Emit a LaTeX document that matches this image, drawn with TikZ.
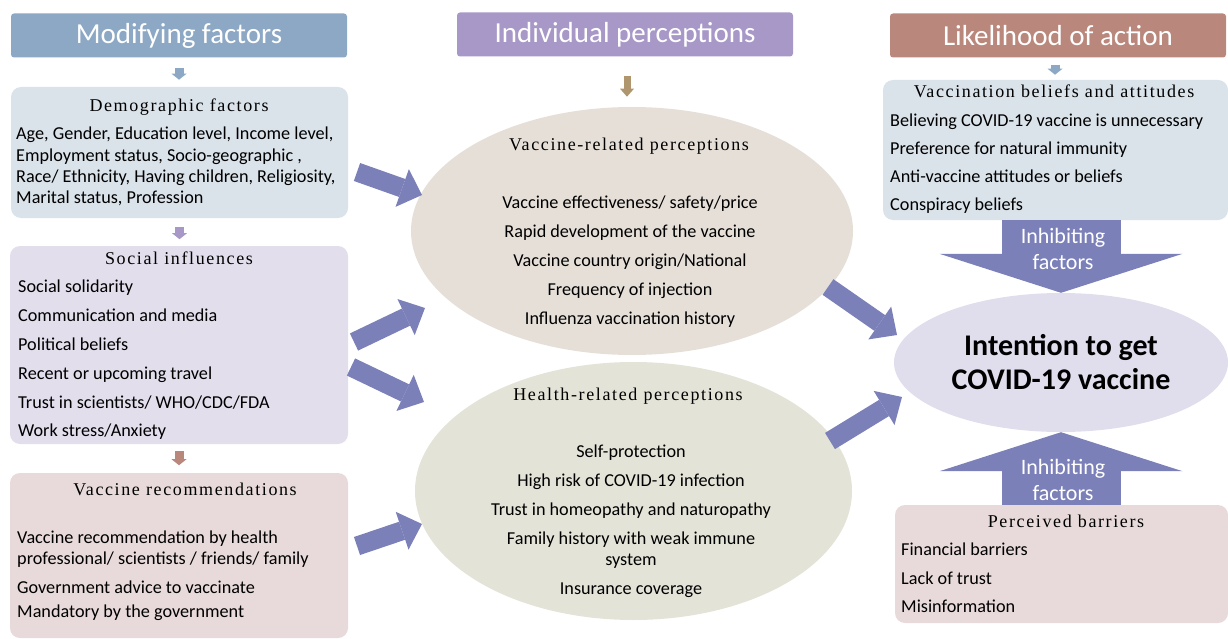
\documentclass[tikz,border=0pt]{standalone}
\usepackage{fontspec}
\setmainfont{Carlito}
\newfontfamily\subfont{Liberation Serif}[LetterSpace=9]
\usetikzlibrary{arrows.meta,positioning,shapes.geometric}

\definecolor{headblue}{HTML}{8CA8C4}
\definecolor{headpurple}{HTML}{A898C8}
\definecolor{headbrown}{HTML}{B9877C}
\definecolor{boxblue}{HTML}{DAE2EA}
\definecolor{boxlilac}{HTML}{E2DEEC}
\definecolor{boxpink}{HTML}{E8DADA}
\definecolor{ovalsand}{HTML}{E5DFD8}
\definecolor{ovalsage}{HTML}{E3E3D8}
\definecolor{ovallilac}{HTML}{E0DDEC}
\definecolor{arrowblue}{HTML}{7B80B8}
\definecolor{arrowtan}{HTML}{B0966E}

\begin{document}
\begin{tikzpicture}[x=1pt,y=-1pt]
\tikzset{HeadStyle/.style={rounded corners=3pt, minimum width=336pt, minimum height=44pt,
                           inner sep=0, text=white, font=\fontsize{29}{29}\selectfont},
         BoxStyle/.style={rounded corners=10pt, inner sep=0},
         OvalStyle/.style={ellipse, inner sep=0},
         SubStyle/.style={inner sep=0, anchor=base, font=\subfont\fontsize{18}{18}\selectfont},
         ListStyle/.style={inner sep=0, align=left, anchor=north west,
                           font=\fontsize{18.2}{28.8}\selectfont},
         SmallArrow/.style={line width=9pt, -{Triangle[width=15pt,length=6pt,line width=0pt]}},
         BigArrow/.style={arrowblue, line width=19pt, -{Triangle[width=40pt,length=21pt,line width=0pt]}},
         WideArrow/.style={arrowblue, line width=119pt, -{Triangle[width=243pt,length=39pt,line width=0pt]}}}
\useasboundingbox (0,0) rectangle (1228,639);

% column heads
\node[HeadStyle, fill=headblue] (M0) at (179,35.5) {Modifying factors};
\node[HeadStyle, fill=headpurple] (P0) at (625,34.5) {Individual perceptions};
\node[HeadStyle, fill=headbrown] (L0) at (1058,35.5) {Likelihood of action};

% modifying factors
\node[BoxStyle, fill=boxblue, minimum width=337pt, minimum height=131pt] (M1) at (179.5,152.5) {};
\node[BoxStyle, fill=boxlilac, minimum width=338pt, minimum height=198pt] (M2) at (179,345) {};
\node[BoxStyle, fill=boxpink, minimum width=338pt, minimum height=165pt] (M3) at (179,555.5) {};
\node[SubStyle] (M1h) at (179,112) {Demographic factors};
\node[SubStyle] (M2h) at (179,264) {Social influences};
\node[SubStyle] (M3h) at (185,495) {Vaccine recommendations};
\node[ListStyle, font=\fontsize{18.2}{21.3}\selectfont] (M1t) at (16,127)
  {Age, Gender, Education level, Income level,\\Employment status, Socio-geographic ,\\
   Race/ Ethnicity, Having children, Religiosity,\\Marital status, Profession};
\node[ListStyle] (M2t) at (18,280)
  {Social solidarity\\Communication and media\\Political beliefs\\
   Recent or upcoming travel\\Trust in scientists/ WHO/CDC/FDA\\Work stress/Anxiety};
\node[ListStyle, font=\fontsize{18.2}{21}\selectfont] (M3t) at (17,531)
  {Vaccine recommendation by health\\professional/ scientists / friends/ family\\[8pt]
   Government advice to vaccinate\\[3pt]Mandatory by the government};

% perceptions
\node[OvalStyle, fill=ovalsand, minimum width=442pt, minimum height=248pt] (P1) at (632,231) {};
\node[OvalStyle, fill=ovalsage, minimum width=437pt, minimum height=258pt] (P2) at (633.5,491) {};
\node[SubStyle] (P1h) at (629,151) {Vaccine-related perceptions};
\node[SubStyle] (P2h) at (628,400) {Health-related perceptions};
\node[ListStyle, align=center, anchor=north] (P1t) at (630,196)
  {Vaccine effectiveness/ safety/price\\Rapid development of the vaccine\\
   Vaccine country origin/National\\Frequency of injection\\Influenza vaccination history};
\node[ListStyle, align=center, anchor=north] (P2t) at (631,445)
  {Self-protection\\High risk of COVID-19 infection\\Trust in homeopathy and naturopathy\\
   Family history with weak immune\\[-7.8pt]system\\Insurance coverage};

% likelihood of action
\node[BoxStyle, fill=boxblue, minimum width=345pt, minimum height=140pt] (L1) at (1055.5,150) {};
\node[OvalStyle, fill=ovallilac, minimum width=334pt, minimum height=139pt,
      align=center, font=\fontsize{30}{34}\selectfont\bfseries] (L2) at (1061,362.5)
  {Intention to get\\COVID-19 vaccine};
\draw[WideArrow] (L1.south -| L2.north) -- (L2.north);
\draw[WideArrow] ([yshift=-2pt]L2.south |- 0,507) -- (L2.south);
\node[BoxStyle, fill=boxpink, minimum width=333pt, minimum height=118pt] (L3) at (1061.5,564) {};
\node[align=center, text=white, font=\fontsize{22}{26}\selectfont] (I1) at (1063,249) {Inhibiting\\factors};
\node[align=center, text=white, font=\fontsize{22}{26}\selectfont] (I2) at (1063,480) {Inhibiting\\factors};
\node[SubStyle] (L1h) at (1054,98) {Vaccination beliefs and attitudes};
\node[SubStyle] (L3h) at (1066,527) {Perceived barriers};
\node[ListStyle, font=\fontsize{18.2}{28}\selectfont] (L1t) at (890,114)
  {Believing COVID-19 vaccine is unnecessary\\Preference for natural immunity\\
   Anti-vaccine attitudes or beliefs\\Conspiracy beliefs};
\node[ListStyle, font=\fontsize{18.2}{28.5}\selectfont] (L3t) at (901,543)
  {Financial barriers\\Lack of trust\\Misinformation};

% small arrows
\draw[SmallArrow, headblue] ([yshift=-10pt]M0.south) -- ([yshift=-22pt]M0.south);
\draw[SmallArrow, headpurple] ([yshift=-9pt]M1.south) -- ([yshift=-21pt]M1.south);
\draw[SmallArrow, headbrown] ([yshift=-7pt]M2.south) -- ([yshift=-21pt]M2.south);
\draw[arrowtan, line width=7pt, -{Triangle[width=14pt,length=8pt,line width=0pt]}]
  ([yshift=-19pt,xshift=2pt]P0.south) -- ([yshift=-40pt,xshift=2pt]P0.south);
\draw[SmallArrow, headblue] ([yshift=-7pt,xshift=-3pt]L0.south) -- ([yshift=-17pt,xshift=-3pt]L0.south);

% block arrows
\coordinate (T1) at (357,172); \coordinate (H1) at (422,195);
\coordinate (T2) at (354,342); \coordinate (H2) at (425,308);
\coordinate (T3) at (351,367); \coordinate (H3) at (424,402);
\coordinate (T4) at (357,546); \coordinate (H4) at (422,524);
\coordinate (T5) at (828,287); \coordinate (H5) at (897,335);
\coordinate (T6) at (830,441); \coordinate (H6) at (902,397);
\draw[BigArrow] (T1) -- (H1);
\draw[BigArrow] (T2) -- (H2);
\draw[BigArrow] (T3) -- (H3);
\draw[BigArrow] (T4) -- (H4);
\draw[BigArrow] (T5) -- (H5);
\draw[BigArrow] (T6) -- (H6);

\end{tikzpicture}
\end{document}
